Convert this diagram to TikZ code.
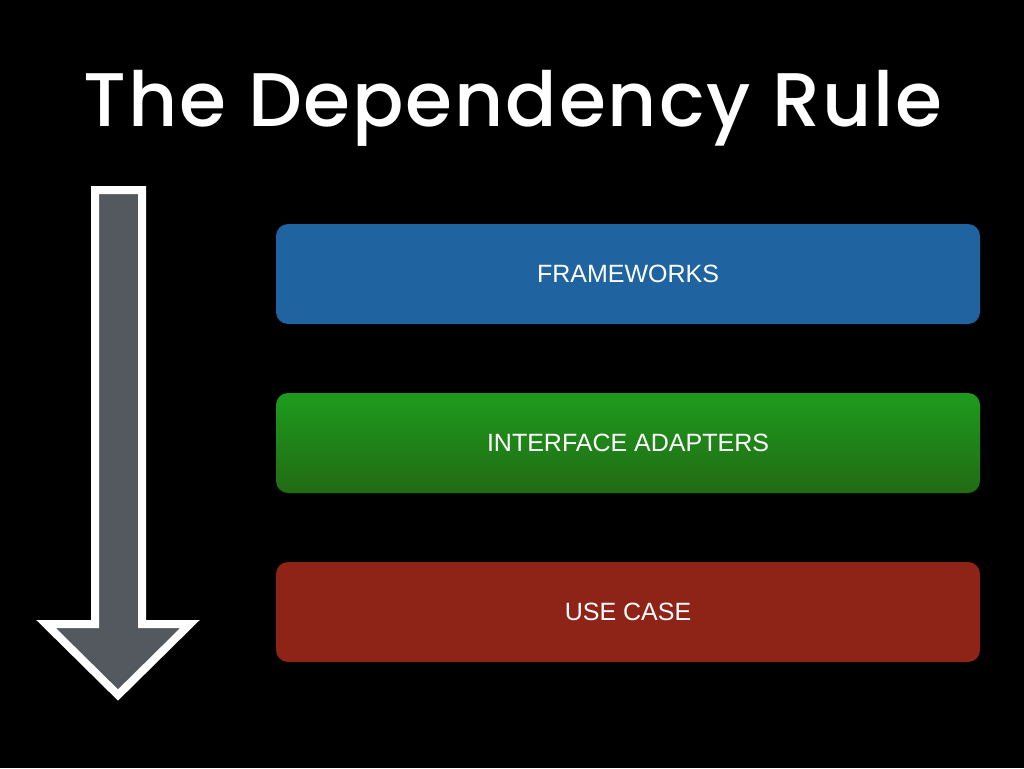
\documentclass[tikz,border=0pt]{standalone}
\usepackage{fontspec}
\setmainfont{Liberation Sans}
\newfontfamily\titlefont{Poppins}[UprightFont={* Medium}, LetterSpace=2.4]
\usetikzlibrary{calc}
\definecolor{bluebox}{HTML}{1F64A0}
\definecolor{greentop}{HTML}{1D9C1D}
\definecolor{greenbot}{HTML}{226A14}
\definecolor{redbox}{HTML}{8E2317}
\definecolor{arrowgray}{HTML}{545960}
\tikzset{
  layer/.style={rounded corners=12pt, minimum width=704pt, minimum height=100pt, inner sep=0pt,
    text=white, font=\fontsize{25}{28}\selectfont},
}
\begin{document}
\begin{tikzpicture}[x=1pt,y=-1pt]
\fill[black] (0,0) rectangle (1024,768);
\useasboundingbox (0,0) rectangle (1024,768);
\node[text=white, font=\titlefont\fontsize{76}{80}\selectfont] (title) at (513,108) {The Dependency Rule};
\node[layer, fill=bluebox] (fw) at (628,274) {FRAMEWORKS};
\node[layer, top color=greentop, bottom color=greenbot] (ia) at (628,443) {INTERFACE ADAPTERS};
\node[layer, fill=redbox] (uc) at (628,612) {USE CASE};
\draw[white, line width=8pt, fill=arrowgray, miter limit=10]
  (95,190) -- (142,190) -- (142,624) -- (190,624) -- (118,695) -- (46,624) -- (95,624) -- cycle;
\end{tikzpicture}
\end{document}
